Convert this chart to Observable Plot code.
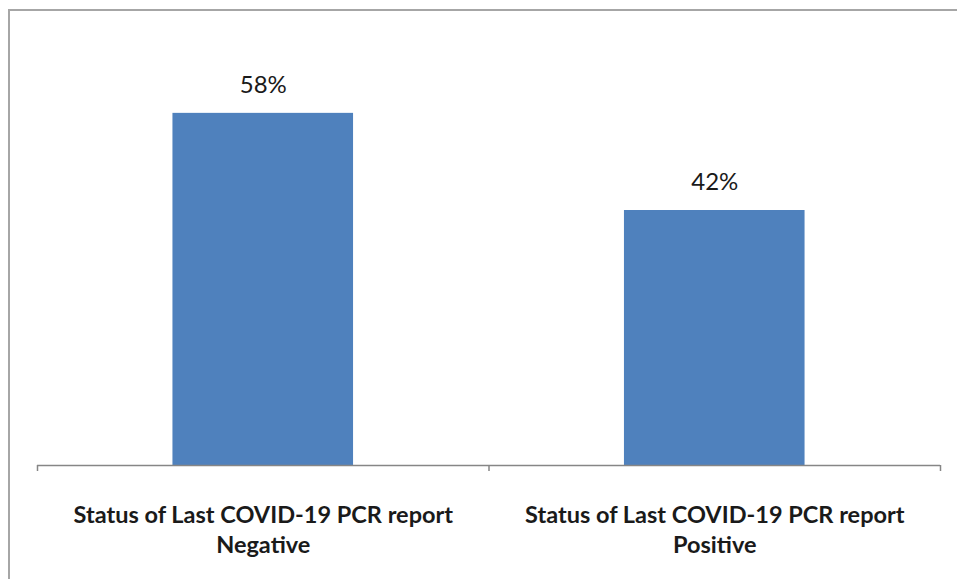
<!DOCTYPE html>
<html>
<head>
<meta charset="utf-8">
<script src="https://cdn.jsdelivr.net/npm/d3@7"></script>
<script src="https://cdn.jsdelivr.net/npm/@observablehq/plot@0.6"></script>
<style>
  html, body { margin: 0; padding: 0; background: #fff; overflow: hidden; }
  #wrap { position: relative; width: 957px; height: 579px; }
  #border { position: absolute; left: 8px; top: 9px; width: 1000px; height: 700px; border: 2px solid #a6a6a6; box-sizing: border-box; pointer-events: none; }
</style>
</head>
<body>
<div id="wrap"><div id="border"></div></div>
<script>
const categories = ["Status of Last COVID-19 PCR report\nNegative", "Status of Last COVID-19 PCR report\nPositive"];
const values = [0.58, 0.42];
const valueLabels = ["58%", "42%"];

const data = categories.map((c, i) => ({cat: c, idx: i, value: values[i], label: valueLabels[i]}));
const font = "Lato, 'Open Sans', sans-serif";

const chart = Plot.plot({
  width: 957,
  height: 579,
  marginLeft: 37,
  marginRight: 17,
  marginTop: 40,
  marginBottom: 114,
  style: {fontFamily: font, background: "transparent"},
  x: {type: "linear", domain: [0, categories.length], axis: null},
  y: {domain: [0, 0.7], axis: null},
  marks: [
    Plot.rectY(data, {x1: d => d.idx + 0.3, x2: d => d.idx + 0.7, y1: 0, y2: "value", fill: "#4f81bd"}),
    Plot.ruleY([0], {stroke: "#868686", strokeWidth: 1.5}),
    Plot.axisX({ticks: d3.range(categories.length + 1), tickFormat: () => "", tickSize: 6, stroke: "#868686", strokeWidth: 1.5}),
    Plot.text(data, {x: d => d.idx + 0.5, y: "value", text: "label", dy: -28, fontSize: 24, fill: "#1a1a1a", fontFamily: font}),
    Plot.text(data, {x: d => d.idx + 0.5, y: 0, text: "cat", dy: 36, lineAnchor: "top", fontSize: 23.5, fontWeight: "bold", lineHeight: 1.28, fill: "#1a1a1a", fontFamily: font})
  ]
});
chart.style.position = "absolute";
chart.style.left = "0px";
chart.style.top = "0px";
document.getElementById("wrap").appendChild(chart);
</script>
</body>
</html>
